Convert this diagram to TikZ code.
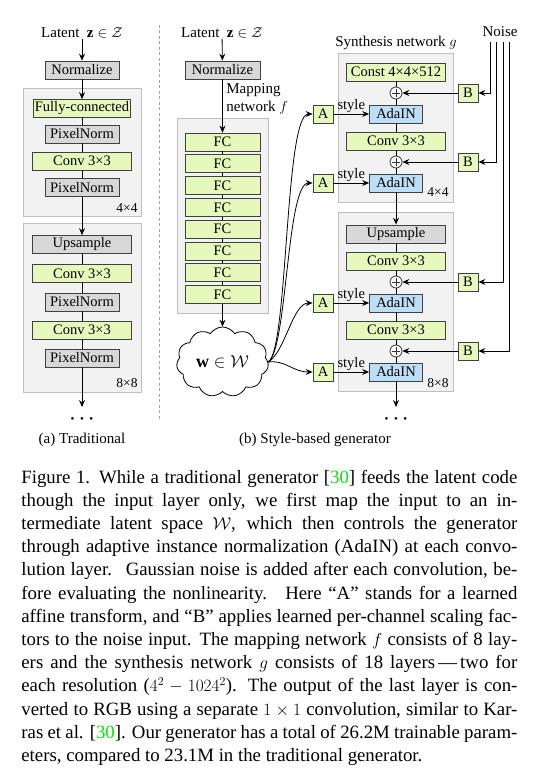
\documentclass[tikz,border=0pt]{standalone}
\usepackage{fontspec}
\setmainfont{Liberation Serif}
\usepackage{bm}
\usepackage{tikz}
\usetikzlibrary{shapes.symbols}
\usetikzlibrary{arrows.meta}
\tikzset{>={Stealth[length=7pt,width=6pt,inset=2.5pt]}}
\definecolor{fcgreen}{RGB}{229,249,189}
\definecolor{boxgray}{RGB}{216,216,216}
\definecolor{adablue}{RGB}{189,222,247}
\definecolor{panelfill}{RGB}{242,242,242}
\definecolor{panelline}{RGB}{190,190,190}
\definecolor{citegreen}{RGB}{0,235,0}

\begin{document}
\begin{tikzpicture}[x=1pt, y=-1pt, line width=0.8pt,
    blk/.style={draw=black!75, minimum height=18pt, inner sep=1pt, font=\fontsize{14.5}{16}\selectfont},
    grn/.style={blk, fill=fcgreen},
    gry/.style={blk, fill=boxgray},
    blu/.style={blk, fill=adablue, minimum width=53pt},
    wide/.style={minimum width=99pt},
    narrow/.style={minimum width=74pt},
    small/.style={minimum width=20pt},
    panel/.style={draw=panelline, fill=panelfill},
    sep/.style={draw=black!35, line width=1pt, dash pattern=on 3pt off 2.5pt},
    lbl/.style={font=\fontsize{15}{18}\selectfont, inner sep=0pt},
    res/.style={font=\fontsize{13.5}{15}\selectfont, inner sep=0pt},
    styl/.style={font=\fontsize{14.5}{16}\selectfont, inner sep=1pt},
    dots/.style={font=\fontsize{11}{12}\selectfont, inner sep=0pt},
    addop/.style={circle, draw=black!80, fill=white, minimum size=12pt, inner sep=0pt,
        path picture={\draw[line width=0.6pt] ([yshift=-2pt]path picture bounding box.north) -- ([yshift=2pt]path picture bounding box.south)
            ([xshift=2pt]path picture bounding box.west) -- ([xshift=-2pt]path picture bounding box.east);}}]
    \useasboundingbox (0,0) rectangle (539,770);
    \draw[panel] (23,88) rectangle (141,216);
    \draw[panel] (23,223) rectangle (141,392);
    \draw[panel] (177,118) rectangle (268,313);
    \draw[panel] (338,53) rectangle (453,202);
    \draw[panel] (338,212) rectangle (453,391);
    \draw[sep] (159,25) -- (159,420);

    % (a) traditional
    \begin{scope}
        \node[lbl] (latA) at (82,33) {Latent\enspace$\mathbf{z}\in\mathcal{Z}$};
        \node[gry, narrow] (normA) at (82,70) {Normalize};
        \node[grn, minimum width=97pt] (fcA) at (82,108.5) {Fully-connected};
        \node[gry, narrow] (pnA1) at (82,134) {PixelNorm};
        \node[grn, wide] (cvA1) at (82,161) {Conv 3×3};
        \node[gry, narrow] (pnA2) at (82,187.5) {PixelNorm};
        \node[res] at (127,208) {4×4};
        \node[gry, wide] (upA) at (82,244.5) {Upsample};
        \node[grn, wide] (cvA2) at (82,273.5) {Conv 3×3};
        \node[gry, narrow] (pnA3) at (82,302) {PixelNorm};
        \node[grn, wide] (cvA3) at (82,330) {Conv 3×3};
        \node[gry, narrow] (pnA4) at (82,358) {PixelNorm};
        \node[res] at (127,383) {8×8};
        \coordinate (endA) at (82,407);
        \node[dots] at (82,420) {\textbullet\hspace{5.5pt}\textbullet\hspace{5.5pt}\textbullet};
        \node[lbl] at (82,440) {(a) Traditional};
        \draw[->] (latA) -- (normA);
        \draw[->] (normA) -- (fcA);
        \draw (fcA) -- (pnA1) -- (cvA1) -- (pnA2);
        \draw[->] (pnA2) -- (upA);
        \draw (upA) -- (cvA2) -- (pnA3) -- (cvA3) -- (pnA4);
        \draw[->] (pnA4) -- (endA);
    \end{scope}

    % (b) style-based
    \begin{scope}
        \node[lbl] (latB) at (222,33) {Latent\enspace$\mathbf{z}\in\mathcal{Z}$};
        \node[gry, minimum width=75pt] (normB) at (222.5,70) {Normalize};
        \node[lbl, align=left, anchor=west] at (226,99) {Mapping\\network $f$};
        \foreach \i in {1,...,8}
            \node[grn, minimum width=75pt] (fc\i) at (222.5,{142+21.8*(\i-1)}) {FC};
        \foreach \i in {1,...,7} {
            \pgfmathtruncatemacro\j{\i+1}
            \draw (fc\i) -- (fc\j);
        }
        \node[cloud, draw=black, fill=white, cloud puffs=11, cloud puff arc=115, aspect=1.3,
            minimum width=92pt, minimum height=70pt, inner sep=0pt,
            font=\fontsize{18}{20}\selectfont] (w) at (222.5,362) {$\mathbf{w}\in\mathcal{W}$};
        \draw[->] (latB) -- (normB);
        \draw[->] (normB) -- (fc1);
        \draw[->] (fc8) -- (w);

        \node[lbl] at (396,43) {Synthesis network $g$};
        \node[lbl] at (500,32) {Noise};
        \node[grn, wide] (const) at (396,72) {Const 4×4×512};
        \node[addop] (add1) at (396,93) {};
        \node[blu] (ada1) at (396,114) {AdaIN};
        \node[grn, wide] (cv1) at (396,141) {Conv 3×3};
        \node[addop] (add2) at (396,162) {};
        \node[blu] (ada2) at (396,183) {AdaIN};
        \node[res] at (438,192) {4×4};
        \node[gry, wide] (upB) at (396,234) {Upsample};
        \node[grn, wide] (cv2) at (396,261) {Conv 3×3};
        \node[addop] (add3) at (396,282) {};
        \node[blu] (ada3) at (396,303) {AdaIN};
        \node[grn, wide] (cv3) at (396,330) {Conv 3×3};
        \node[addop] (add4) at (396,351) {};
        \node[blu] (ada4) at (396,372) {AdaIN};
        \node[res] at (438,383) {8×8};
        \coordinate (endB) at (396,407);
        \node[dots] at (396,420) {\textbullet\hspace{5.5pt}\textbullet\hspace{5.5pt}\textbullet};
        \node[lbl] at (315,440) {(b) Style-based generator};
        \draw (const) -- (add1) -- (ada1) -- (cv1) -- (add2) -- (ada2);
        \draw[->] (ada2) -- (upB);
        \draw (upB) -- (cv2) -- (add3) -- (ada3) -- (cv3) -- (add4) -- (ada4);
        \draw[->] (ada4) -- (endB);

        \foreach \k/\ya/\yb/\x in {1/114/93/490, 2/183/162/496, 3/303/282/503, 4/372/351/509} {
            \node[grn, small] (A\k) at (323,\ya) {A};
            \node[grn, small] (B\k) at (468,\yb) {B};
            \coordinate (noise\k) at (\x,42);
            \draw[->] (A\k) -- node[above, styl] {style} (ada\k);
            \draw[->] (B\k) -- (add\k);
            \draw[->] (noise\k) |- (B\k);
        }
        \draw[->] (w.east) .. controls +(20,-12) and +(-28,0) .. (A1.west);
        \draw[->] (w.east) .. controls +(19,-12) and +(-26,0) .. (A2.west);
        \draw[->] (w.east) .. controls +(17,-10) and +(-20,0) .. (A3.west);
        \draw[->] (w.east) .. controls +(18,-2) and +(-20,0) .. (A4.west);
    \end{scope}

    % caption
    \node[anchor=base west, inner sep=0pt, font=\fontsize{18.8}{23.2}\selectfont] (cap) at (21,483) {\parbox[t]{496pt}{%
        \makebox[496pt][s]{Figure 1. While a traditional generator [\textcolor{citegreen}{30}] feeds the latent code}\\
        \makebox[496pt][s]{though the input layer only, we first map the input to an in-}\\
        \makebox[496pt][s]{termediate latent space $\mathcal{W}$, which then controls the generator}\\
        \makebox[496pt][s]{through adaptive instance normalization (AdaIN) at each convo-}\\
        \makebox[496pt][s]{lution layer. \ Gaussian noise is added after each convolution, be-}\\
        \makebox[496pt][s]{fore evaluating the nonlinearity. \ Here “A” stands for a learned}\\
        \makebox[496pt][s]{affine transform, and “B” applies learned per-channel scaling fac-}\\
        \makebox[496pt][s]{tors to the noise input. The mapping network $f$ consists of 8 lay-}\\
        \makebox[496pt][s]{ers and the synthesis network $g$ consists of 18 layers\,—\,two for}\\
        \makebox[496pt][s]{each resolution ($4^2-1024^2$). The output of the last layer is con-}\\
        \makebox[496pt][s]{verted to RGB using a separate $1\times1$ convolution, similar to Kar-}\\
        \makebox[496pt][s]{ras et al. [\textcolor{citegreen}{30}]. Our generator has a total of 26.2M trainable param-}\\
        eters, compared to 23.1M in the traditional generator.}};
\end{tikzpicture}
\end{document}
